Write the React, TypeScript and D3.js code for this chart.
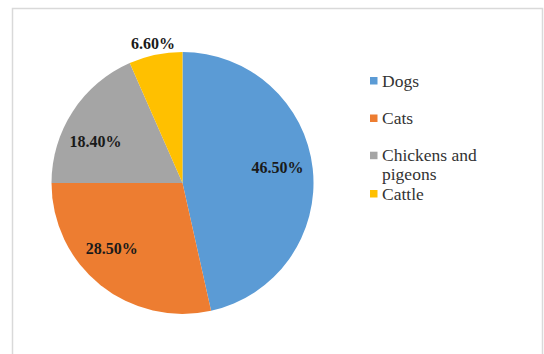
import React from "react";
import * as d3 from "d3";

const categories = ["Dogs", "Cats", "Chickens and pigeons", "Cattle"];
const values = [46.5, 28.5, 18.4, 6.6];
const valueLabels = ["46.50%", "28.50%", "18.40%", "6.60%"];
const legendLines = [["Dogs"], ["Cats"], ["Chickens and", "pigeons"], ["Cattle"]];

const colors = ["#5B9BD5", "#ED7D31", "#A5A5A5", "#FFC000"];
// label placement (style): radius factor and angular nudge in degrees
const labelRadiusFactor = [0.735, 0.735, 0.735, 1.09];
const labelAngleNudge = [-3, 8.6, -7.7, 0];

const W = 544;
const H = 354;
const cx = 182.5;
const cy = 183;
const R = 131;

export default function App() {
  const pie = d3.pie<number>().sort(null).value((d) => d)(values);
  const arc = d3.arc<d3.PieArcDatum<number>>().innerRadius(0).outerRadius(R);
  const font = "'Liberation Serif', 'Times New Roman', serif";

  const legendRowsY = [86.5, 124, 161.2, 199.5];

  return (
    <svg
      width={W}
      height={H}
      style={{ position: "absolute", left: 0, top: 0, background: "#fff" }}
    >
      <rect x={12.5} y={8.5} width={530} height={360} fill="#fff" stroke="#d9d9d9" strokeWidth={1.5} />
      <g transform={`translate(${cx},${cy})`}>
        {pie.map((p, i) => (
          <path key={categories[i]} d={arc(p) || ""} fill={colors[i]} />
        ))}
        {pie.map((p, i) => {
          const mid = (p.startAngle + p.endAngle) / 2 + (labelAngleNudge[i] * Math.PI) / 180;
          const rho = R * labelRadiusFactor[i];
          const x = rho * Math.sin(mid);
          const y = -rho * Math.cos(mid);
          return (
            <text
              key={"l" + i}
              x={x}
              y={y + 5.3}
              textAnchor="middle"
              fontFamily={font}
              fontWeight="bold"
              fontSize={16}
              fill="#1a1a1a"
            >
              {valueLabels[i]}
            </text>
          );
        })}
      </g>
      <g>
        {legendLines.map((lines, i) => (
          <g key={"lg" + i}>
            <rect x={370} y={legendRowsY[i] - 9.5} width={7.5} height={7.5} fill={colors[i]} />
            {lines.map((ln, j) => (
              <text
                key={j}
                x={382}
                y={legendRowsY[i] + j * 18.8}
                fontFamily={font}
                fontSize={17.5}
                fill="#333"
              >
                {ln}
              </text>
            ))}
          </g>
        ))}
      </g>
    </svg>
  );
}
